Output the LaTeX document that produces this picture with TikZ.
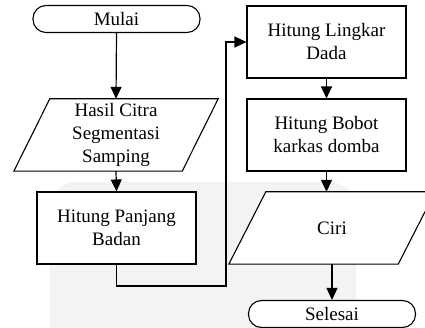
\documentclass[tikz,border=0pt]{standalone}
\usepackage{fontspec}
\setmainfont{Liberation Serif}
\usetikzlibrary{arrows.meta,calc,positioning}
\begin{document}
\begin{tikzpicture}[x=1pt,y=-1pt,
  every node/.style={font=\fontsize{19}{23}\selectfont, align=center, inner sep=0pt},
  line/.style={line width=1.2pt},
  arrow/.style={line, -{Triangle[length=12pt,width=11pt]}},
  procbox/.style={draw, line width=1.1pt, fill=white, minimum width=159pt, minimum height=72pt},
  term/.style={draw, line width=1.1pt, fill=white, rounded corners=13pt, minimum width=167pt, minimum height=27pt},
  iobox/.style={minimum width=132pt, minimum height=72pt},
  para/.style={draw, line width=1.1pt, fill=white}]
\useasboundingbox (0,0) rectangle (425,328);
\clip (0,0) rectangle (425,328);
% faint background shape
\fill[fill={rgb,255:red,243;green,243;blue,243}, rounded corners=26pt] (50,182) rectangle (356,360);

\node[term] (mulai) at (116.5,19) {Mulai};
\node[iobox] (hasil) at (116,135) {};
\draw[para] (hasil.north west) -- ($(hasil.north east)+(36,0)$) -- (hasil.south east) -- ($(hasil.south west)+(-36,0)$) -- cycle;
\node at (hasil) {Hasil Citra\\Segmentasi\\Samping};
\node[procbox] (panjang) at (116.5,228) {Hitung Panjang\\Badan};
\node[procbox] (lingkar) at (326.5,42) {Hitung Lingkar\\Dada};
\node[procbox] (bobot) at (326.5,135) {Hitung Bobot\\karkas domba};
\node[iobox] (ciri) at (332,228) {};
\draw[para] (ciri.north west) -- ($(ciri.north east)+(37,0)$) -- (ciri.south east) -- ($(ciri.south west)+(-37,0)$) -- cycle;
\node at (ciri) {Ciri};
\node[term] (selesai) at (332,314) {Selesai};

\coordinate (j) at (226,286);
\draw[arrow] (mulai.south) -- (hasil.north);
\draw[arrow] (hasil.south) -- (panjang.north);
\draw[arrow] (panjang.south) |- (j) |- (lingkar.west);
\draw[arrow] (lingkar.south) -- (bobot.north);
\draw[arrow] (bobot.south) -- (ciri.north -| bobot.south);
\draw[arrow] (ciri.south) -- (selesai.north);
\end{tikzpicture}
\end{document}
